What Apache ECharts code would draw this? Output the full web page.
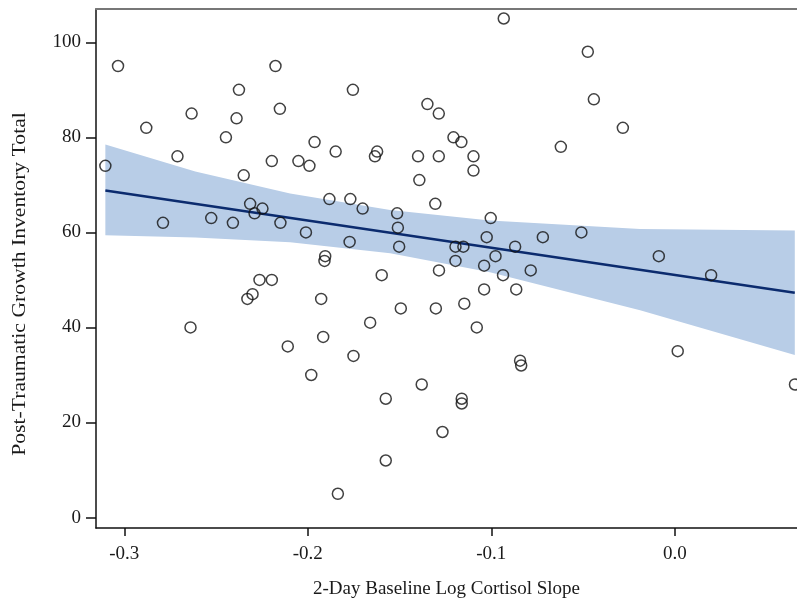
<!DOCTYPE html>
<html>
<head>
<meta charset="utf-8">
<script src="https://cdn.jsdelivr.net/npm/echarts@6/dist/echarts.min.js"></script>
<style>
  html, body { margin: 0; padding: 0; background: #fff; }
  #chart { width: 797px; height: 604px; }
</style>
</head>
<body>
<div id="chart"></div>
<script>
// slope (x) and PTGI total (y) for each participant
var slopeX = [
  -0.3103, -0.3034, -0.2880, -0.2789, -0.2710, -0.2639, -0.2633, -0.2526, -0.2446, -0.2408,
  -0.2388, -0.2375, -0.2349, -0.2329, -0.2314, -0.2301, -0.2290, -0.2263, -0.2247, -0.2196,
  -0.2196, -0.2176, -0.2152, -0.2149, -0.2109, -0.2051, -0.2010, -0.1991, -0.1981, -0.1963,
  -0.1927, -0.1916, -0.1909, -0.1905, -0.1882, -0.1848, -0.1836, -0.1772, -0.1768, -0.1754,
  -0.1751, -0.1701, -0.1660, -0.1634, -0.1622, -0.1597, -0.1575, -0.1575, -0.1513, -0.1509,
  -0.1502, -0.1493, -0.1399, -0.1392, -0.1379, -0.1348, -0.1305, -0.1302, -0.1286, -0.1286,
  -0.1285, -0.1266, -0.1206, -0.1195, -0.1195, -0.1163, -0.1161, -0.1161, -0.1152, -0.1147,
  -0.1097, -0.1097, -0.1079, -0.1039, -0.1039, -0.1025, -0.1003, -0.0977, -0.0936, -0.0932,
  -0.0870, -0.0864, -0.0843, -0.0837, -0.0785, -0.0719, -0.0621, -0.0509, -0.0474, -0.0441,
  -0.0283, -0.0087, 0.0016, 0.0198, 0.0655
]
var ptgiY = [
  74, 95, 82, 62, 76, 40, 85, 63, 80, 62,
  84, 90, 72, 46, 66, 47, 64, 50, 65, 75,
  50, 95, 86, 62, 36, 75, 60, 74, 30, 79,
  46, 38, 54, 55, 67, 77, 5, 58, 67, 90,
  34, 65, 41, 76, 77, 51, 25, 12, 64, 61,
  57, 44, 76, 71, 28, 87, 66, 44, 85, 76,
  52, 18, 80, 57, 54, 79, 25, 24, 57, 45,
  76, 73, 40, 53, 48, 59, 63, 55, 51, 105,
  57, 48, 33, 32, 52, 59, 78, 60, 98, 88,
  82, 55, 35, 51, 28
]

// fitted line and its confidence band
var fitX = [-0.3103, 0.0654]
var fitY = [68.8, 47.3]
var bandX = [-0.3103, -0.2613, -0.2096, -0.1551, -0.1007, -0.0189, 0.0654]
var bandUpper = [78.5, 72.8, 68.2, 64.7, 62.5, 60.7, 60.4]
var bandLower = [59.4, 58.9, 57.9, 55.6, 51.6, 43.6, 34.2]

// tick labels
var xTicks = [-0.3, -0.2, -0.1, 0.0]
var yTicks = [0, 20, 40, 60, 80, 100]

var serif = 'Liberation Serif'
var textColor = '#1a1a1a'

var points = slopeX.map(function(x, i) { return [x, ptgiY[i]] })
var fitLine = fitX.map(function(x, i) { return [x, fitY[i]] })

var chart = echarts.init(document.getElementById('chart'))
chart.setOption({
  animation: false,
  backgroundColor: '#fff',
  grid: { left: 96, top: 9, right: 0, bottom: 76, outerBoundsMode: 'none', containLabel: false },
  // y axis title, stretched along its length like the source figure
  graphic: [{
    type: 'text',
    x: 20,
    y: 284,
    rotation: Math.PI / 2,
    scaleX: 1.14,
    style: {
      text: 'Post-Traumatic Growth Inventory Total',
      fontFamily: serif,
      fontSize: 19,
      fill: textColor,
      align: 'center',
      verticalAlign: 'middle'
    }
  }],
  xAxis: [
    {
      type: 'value',
      min: -0.3154,
      max: 0.0666,
      name: '2-Day Baseline Log Cortisol Slope',
      nameLocation: 'middle',
      nameGap: 52,
      nameTextStyle: { fontFamily: serif, fontSize: 19, color: textColor },
      axisLine: { onZero: false, lineStyle: { color: '#111', width: 1.5 } },
      axisTick: { length: 8, lineStyle: { color: '#111', width: 1.5 }, customValues: xTicks },
      axisLabel: {
        fontFamily: serif, fontSize: 19, color: textColor, margin: 17,
        customValues: xTicks,
        formatter: function(v) { return v.toFixed(1) }
      },
      splitLine: { show: false }
    },
    {
      // top frame line
      type: 'value',
      position: 'top',
      min: -0.3154,
      max: 0.0666,
      axisLine: { onZero: false, lineStyle: { color: '#777', width: 2 } },
      axisTick: { show: false },
      axisLabel: { show: false },
      splitLine: { show: false }
    }
  ],
  yAxis: {
    type: 'value',
    min: -2.2,
    max: 107,
    axisLine: { onZero: false, lineStyle: { color: '#111', width: 1.5 } },
    axisTick: { length: 10, lineStyle: { color: '#111', width: 1.5 }, customValues: yTicks },
    axisLabel: { fontFamily: serif, fontSize: 19, color: textColor, margin: 15, customValues: yTicks },
    splitLine: { show: false }
  },
  series: [
    {
      // confidence band as one polygon
      type: 'custom',
      silent: true,
      data: [0],
      renderItem: function(params, api) {
        var pts = []
        bandX.forEach(function(x, i) { pts.push(api.coord([x, bandUpper[i]])) })
        for (var i = bandX.length - 1; i >= 0; i--) pts.push(api.coord([bandX[i], bandLower[i]]))
        return {
          type: 'polygon',
          shape: { points: pts },
          style: { fill: '#b8cde7', stroke: null }
        }
      },
      z: 1
    },
    {
      type: 'line',
      data: fitLine,
      symbol: 'none',
      lineStyle: { color: '#0b2b6e', width: 2.5 },
      z: 2
    },
    {
      type: 'scatter',
      data: points,
      symbol: 'circle',
      symbolSize: 11,
      itemStyle: { color: 'rgba(255,255,255,0)', borderColor: '#111', borderWidth: 1.5 },
      z: 3
    }
  ]
})
</script>
</body>
</html>
